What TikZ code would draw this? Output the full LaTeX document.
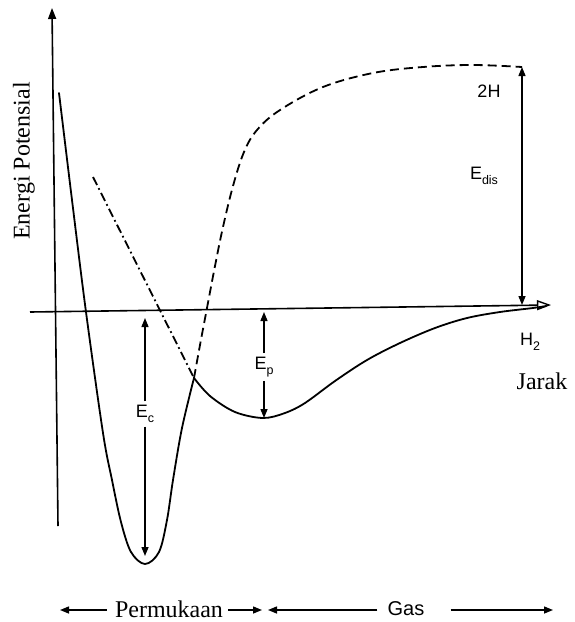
\documentclass[tikz,border=0pt]{standalone}
\usepackage{fontspec}
\setmainfont{Liberation Serif}
\newfontfamily\lsans{Liberation Sans}
\usetikzlibrary{arrows.meta}
\newcommand{\lsub}[1]{\raisebox{-4.5pt}{\fontsize{12.5}{13}\selectfont #1}}
\begin{document}
\begin{tikzpicture}[x=1pt,y=-1pt,
  curve/.style={line width=1.8pt, line join=round, line cap=round},
  axis/.style={line width=1.6pt},
  tipA/.tip={Triangle[length=9pt,width=7pt]},
  dim/.style={line width=1.4pt, -tipA},
  lab/.style={font=\lsans\fontsize{18}{20}\selectfont, inner sep=1pt},
  serif/.style={font=\fontsize{24}{28}\selectfont, inner sep=0pt},
]
\useasboundingbox (0,0) rectangle (574,622);

% axes
\coordinate (yb) at (58,526);
\coordinate (yt) at (52,8);
\coordinate (xo) at (30,312);
\coordinate (xe) at (551,305);
\draw[axis, -{Triangle[length=11pt,width=8pt]}] (yb) -- (yt);
\draw[axis, -{Triangle[open,length=14pt,width=10pt,line width=1.4pt]}] (xo) -- (xe);

% chemisorption well (solid)
\draw[curve] plot[smooth, tension=0.55] coordinates {
  (59,93) (72,200) (86,312) (103,433) (112,480) (121,522) (131,552)
  (145,564) (159,552) (167,520) (173,480) (182,428) (194,378)};
% physisorption well (solid)
\draw[curve] plot[smooth, tension=0.55] coordinates {
  (194,378) (210,396) (235,412) (263,418) (285,413) (305,403)
  (335,381) (367,360) (400,343) (435,328) (467,318) (500,312) (533,308) (546,306)};
% dashed curve up to 2H
\draw[curve, line cap=butt, dash pattern=on 9pt off 5pt] plot[smooth, tension=0.6] coordinates {
  (194,378) (200,345) (207,308) (215,266) (223,227) (233,186) (244,152)
  (257,130) (280,110) (323,87) (373,73) (423,67) (473,65) (522,67)};
% dash-dot line
\draw[curve, line cap=butt, dash pattern=on 9pt off 3.5pt on 1.8pt off 3.5pt] (93,177) -- (194,378);

% E_c
\coordinate (ectop) at (145,318);
\coordinate (ecbot) at (145,556);
\node[lab, fill=white, inner ysep=4pt] (ec) at (145,414) {E\lsub{c}};
\draw[dim] (ec) -- (ectop);
\draw[dim] (ec) -- (ecbot);

% E_p
\coordinate (eptop) at (264,312);
\coordinate (epbot) at (264,418);
\node[lab, fill=white, inner ysep=4pt] (ep) at (264,367) {E\lsub{p}};
\draw[dim] (ep) -- (eptop);
\draw[dim] (ep) -- (epbot);

% E_dis
\coordinate (edtop) at (522,67);
\coordinate (edbot) at (522,305);
\draw[dim, tipA-tipA] (edtop) -- (edbot);
\node[lab] (edis) at (484,176) {E\lsub{dis}};
\node[lab] (twoH) at (489,91) {2H};
\node[lab] (htwo) at (530,342) {H\lsub{2}};

% axis titles
\node[serif, rotate=90] (ylab) at (24,161) {Energi Potensial};
\node[serif] (jarak) at (542,381) {Jarak};

% bottom row
\node[serif] (perm) at (169,609) {Permukaan};
\node[font=\lsans\fontsize{20}{22}\selectfont, inner sep=0pt] (gas) at (406,609) {Gas};
\coordinate (b1) at (60,610);
\coordinate (b2) at (262,610);
\coordinate (b3) at (268,610);
\coordinate (b4) at (553,610);
\draw[dim] ([xshift=-8pt,yshift=-1pt]perm.west) -- (b1);
\draw[dim] ([xshift=5pt,yshift=-1pt]perm.east) -- (b2);
\draw[dim] ([xshift=-10pt,yshift=-1pt]gas.west) -- (b3);
\draw[dim] ([xshift=26pt,yshift=-1pt]gas.east) -- (b4);
\end{tikzpicture}
\end{document}
